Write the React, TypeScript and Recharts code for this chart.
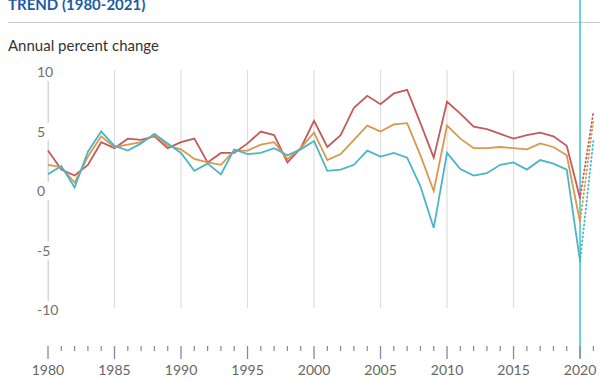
import { LineChart, Line, XAxis, YAxis, ReferenceLine } from "recharts";

const years = [
  1980, 1981, 1982, 1983, 1984, 1985, 1986, 1987, 1988, 1989, 1990, 1991, 1992, 1993,
  1994, 1995, 1996, 1997, 1998, 1999, 2000, 2001, 2002, 2003, 2004, 2005, 2006, 2007,
  2008, 2009, 2010, 2011, 2012, 2013, 2014, 2015, 2016, 2017, 2018, 2019, 2020, 2021,
];

// last value (2021) is the projection, drawn dotted
const emerging = [
  3.4, 1.8, 1.3, 2.2, 4.1, 3.6, 4.4, 4.3, 4.6, 3.6, 4.1, 4.4, 2.4, 3.2, 3.2, 4.0, 5.0,
  4.7, 2.4, 3.6, 5.9, 3.7, 4.7, 7.0, 8.0, 7.3, 8.2, 8.5, 5.7, 2.8, 7.5, 6.5, 5.4, 5.2,
  4.8, 4.4, 4.7, 4.9, 4.6, 3.8, -0.6, 6.6,
];
const world = [
  2.2, 2.0, 0.7, 2.9, 4.6, 3.7, 3.9, 4.1, 4.7, 3.8, 3.5, 2.7, 2.4, 2.2, 3.4, 3.4, 3.9,
  4.1, 2.7, 3.6, 4.9, 2.6, 3.1, 4.3, 5.5, 5.0, 5.6, 5.7, 3.0, 0.0, 5.5, 4.4, 3.6, 3.6,
  3.7, 3.6, 3.5, 4.0, 3.7, 3.0, -2.6, 5.9,
];
const advanced = [
  1.4, 2.1, 0.3, 3.3, 5.0, 3.8, 3.4, 4.0, 4.8, 4.0, 3.2, 1.7, 2.3, 1.4, 3.5, 3.1, 3.2,
  3.6, 3.0, 3.5, 4.2, 1.7, 1.8, 2.2, 3.4, 2.9, 3.2, 2.8, 0.4, -3.1, 3.2, 1.85, 1.3, 1.5,
  2.2, 2.4, 1.8, 2.6, 2.3, 1.8, -5.9, 4.2,
];

const yTicks = [-10, -5, 0, 5, 10];
const gridYears = [1985, 1990, 1995, 2000, 2005, 2010, 2015];
const firstYear = 1980;
const lastActual = 2020;

const Y_MIN = -14.03;
const Y_MAX = 16.05;
const GRID_TOP = 10.17;
const GRID_BOTTOM = -9.83;
const LABEL_GAP = 0.76; // half-height of the white gap round each y label

const RED = "#c45a5c";
const ORANGE = "#d8984f";
const TEAL = "#4bb5c8";
const GRID = "#dedede";
const FONT = "Lato, 'Open Sans', sans-serif";

const data = years.map((year, i) => ({
  year,
  emerging: year <= lastActual ? emerging[i] : null,
  world: year <= lastActual ? world[i] : null,
  advanced: year <= lastActual ? advanced[i] : null,
  emergingF: year >= lastActual ? emerging[i] : null,
  worldF: year >= lastActual ? world[i] : null,
  advancedF: year >= lastActual ? advanced[i] : null,
}));

// pieces of the first-year grid line, broken where the y labels sit
const firstLinePieces = yTicks
  .slice()
  .sort((a, b) => b - a)
  .slice(0, -1)
  .map((t, i, arr) => {
    const next = [...yTicks].sort((a, b) => b - a)[i + 1];
    return [t - LABEL_GAP, next + LABEL_GAP];
  });

function YTick(props: any) {
  const { y, payload } = props;
  return (
    <text x={37} y={y + 5} fill="#707070" fontSize={14} fontFamily={FONT}>
      {payload.value}
    </text>
  );
}

function XTick(props: any) {
  const { x, y, payload } = props;
  const major = payload.value % 5 === 0;
  return (
    <g>
      <line
        x1={x}
        x2={x}
        y1={y - 20}
        y2={major ? y - 7 : y - 15}
        stroke="#8585ad"
        strokeWidth={major ? 1.3 : 1.2}
      />
      {major && (
        <text
          x={x}
          y={y + 9}
          textAnchor="middle"
          fill="#666"
          fontSize={14}
          fontFamily={FONT}
        >
          {payload.value}
        </text>
      )}
    </g>
  );
}

export default function App() {
  return (
    <div
      style={{
        position: "absolute",
        left: 0,
        top: 0,
        width: 600,
        height: 380,
        overflow: "hidden",
        background: "#fff",
        fontFamily: FONT,
      }}
    >
      <div
        style={{
          position: "absolute",
          left: 8,
          top: -3,
          fontSize: 15,
          lineHeight: "15px",
          fontWeight: 700,
          color: "#1d5ba6",
        }}
      >
        TREND (1980-2021)
      </div>
      <div
        style={{
          position: "absolute",
          left: 8,
          top: 22,
          width: 592,
          borderTop: "1.5px solid #cfcfcf",
        }}
      />
      <div
        style={{
          position: "absolute",
          left: 8,
          top: 38,
          fontSize: 15,
          lineHeight: "15px",
          color: "#333",
        }}
      >
        Annual percent change
      </div>
      <div style={{ position: "absolute", left: 0, top: 0 }}>
        <LineChart
          width={600}
          height={380}
          data={data}
          margin={{ top: 0, right: 0, bottom: 0, left: 0 }}
        >
          {gridYears.map((yr) => (
            <ReferenceLine
              key={yr}
              segment={[
                { x: yr, y: GRID_BOTTOM },
                { x: yr, y: GRID_TOP },
              ]}
              stroke={GRID}
              strokeWidth={1.2}
              ifOverflow="visible"
            />
          ))}
          {firstLinePieces.map(([a, b], i) => (
            <ReferenceLine
              key={`first-${i}`}
              segment={[
                { x: firstYear + 0.02, y: a },
                { x: firstYear + 0.02, y: b },
              ]}
              stroke="#d6d6d6"
              strokeWidth={1.5}
              ifOverflow="visible"
            />
          ))}
          <ReferenceLine x={lastActual} stroke="#3cc3c8" strokeWidth={1.5} />
          <XAxis
            dataKey="year"
            type="number"
            domain={[1979.925, 2021.5]}
            ticks={years}
            interval={0}
            height={22}
            axisLine={false}
            tickLine={false}
            tick={<XTick />}
            allowDataOverflow
          />
          <YAxis
            width={47}
            domain={[Y_MIN, Y_MAX]}
            ticks={yTicks}
            interval={0}
            axisLine={false}
            tickLine={false}
            tick={<YTick />}
            allowDataOverflow
          />
          <Line dataKey="emerging" stroke={RED} strokeWidth={1.8} dot={false} activeDot={false} isAnimationActive={false} />
          <Line dataKey="world" stroke={ORANGE} strokeWidth={1.8} dot={false} activeDot={false} isAnimationActive={false} />
          <Line dataKey="advanced" stroke={TEAL} strokeWidth={1.8} dot={false} activeDot={false} isAnimationActive={false} />
          <Line dataKey="emergingF" stroke={RED} strokeWidth={1.8} strokeDasharray="1 3" strokeLinecap="round" dot={false} activeDot={false} isAnimationActive={false} />
          <Line dataKey="worldF" stroke={ORANGE} strokeWidth={1.8} strokeDasharray="1 3" strokeLinecap="round" dot={false} activeDot={false} isAnimationActive={false} />
          <Line dataKey="advancedF" stroke={TEAL} strokeWidth={1.8} strokeDasharray="1 3" strokeLinecap="round" dot={false} activeDot={false} isAnimationActive={false} />
        </LineChart>
      </div>
    </div>
  );
}
